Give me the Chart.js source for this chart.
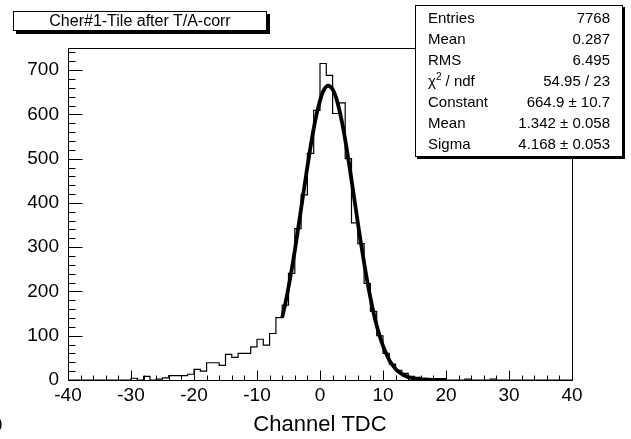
<!DOCTYPE html>
<html><head><meta charset="utf-8">
<script src="https://cdn.jsdelivr.net/npm/chart.js@4.4.0/dist/chart.umd.min.js"></script>
<style>
html,body{margin:0;padding:0;background:#fff;}
#wrap{position:relative;width:631px;height:439px;overflow:hidden;font-family:"Liberation Sans",Arial,sans-serif;color:#000;}
canvas{position:absolute;left:0;top:0;}
.box{position:absolute;background:#fff;border:1px solid #000;box-sizing:border-box;}
#title{left:13px;top:11px;width:254px;height:20px;box-shadow:3px 3px 0 #000;font-size:16px;text-align:center;line-height:18px;white-space:nowrap;}
#stats{left:415px;top:5px;width:208px;height:152px;box-shadow:2px 2px 0 #000;font-size:15px;}
.row{position:absolute;left:12px;right:12px;height:21px;line-height:21px;white-space:nowrap;}
.row .l{position:absolute;left:0;}
.row .r{position:absolute;right:0;}
sup{font-size:10px;vertical-align:6px;line-height:0;}
#corner{position:absolute;left:-3px;top:414px;font-size:17px;}
</style></head>
<body>
<div id="wrap">
<canvas id="c" width="631" height="439"></canvas>
<div id="title" class="box">Cher#1-Tile after T/A-corr</div>
<div id="stats" class="box"></div>
<div id="corner">)</div>
</div>
<script>
// ---- data ----
const binLow = [-40,-39,-38,-37,-36,-35,-34,-33,-32,-31,-30,-29,-28,-27,-26,-25,-24,-23,-22,-21,
 -20,-19,-18,-17,-16,-15,-14,-13,-12,-11,-10,-9,-8,-7,-6,-5,-4,-3,-2,-1,
 0,1,2,3,4,5,6,7,8,9,10,11,12,13,14,15,16,17,18,19,
 20,21,22,23,24,25,26,27,28,29,30,31,32,33,34,35,36,37,38,39];
const binWidth = 1;
const counts = [0,0,0,0,0,0,0,0,0,0,4,0,8,0,2,5,10,10,10,13,
 24,20,39,39,33,58,51,60,60,75,92,79,105,141,169,241,342,418,512,609,
 715,688,602,626,500,355,308,218,155,100,60,36,22,15,8,6,4,3,1,1,
 0,0,0,2,0,0,0,2,0,0,0,0,0,0,0,0,0,0,0,0];
const fitX = [-6,-5.5,-5,-4.5,-4,-3.5,-3,-2.5,-2,-1.5,-1,-0.5,0,0.5,1,1.342,1.5,2,2.5,3,3.5,4,4.5,5,5.5,6,6.5,7,7.5,8,8.5,9,9.5,10,10.5,11,11.5,12,12.5,13,13.5,14,14.5,15,15.5,16,17,18,19,20];
const fitY = [141,173,209,249,292,339,387,435,482,527,568,603,631,652,663,665,664,657,640,614,582,543,499,452,404,356,309,265,223,186,152,123,98,77,60,45,34,25,18.5,13.3,9.4,6.6,4.6,3.1,2.1,1.4,0.6,0.2,0.1,0];
const xTickValues = [-40,-30,-20,-10,0,10,20,30,40];
const xTickLabels = ['-40','-30','-20','-10','0','10','20','30','40'];
const yTickValues = [0,100,200,300,400,500,600,700];
const yTickLabels = ['0','100','200','300','400','500','600','700'];
const statLabels = ['Entries','Mean','RMS','χ<sup>2</sup> / ndf','Constant','Mean','Sigma'];
const statValues = ['7768','0.287','6.495','54.95 / 23','664.9 ± 10.7','1.342 ± 0.058','4.168 ± 0.053'];
const histTitle = 'Cher#1-Tile after T/A-corr';
const xTitle = 'Channel TDC';

// stats box
const sb = document.getElementById('stats');
statLabels.forEach((l,i)=>{
  const d = document.createElement('div');
  d.className='row';
  d.style.top = (1 + i*21) + 'px';
  d.innerHTML = '<span class="l">'+l+'</span><span class="r">'+statValues[i]+'</span>';
  sb.appendChild(d);
});
document.getElementById('title').textContent = histTitle;

const histData = binLow.map((x,i)=>({x:x, y:counts[i]}));
histData.push({x: binLow[binLow.length-1] + binWidth, y: counts[counts.length-1]});
const fitData = fitX.map((x,i)=>({x:x, y:fitY[i]}));

const framePlugin = {
  id:'frame',
  afterDatasetsDraw(chart){
    const {ctx, chartArea:a, scales:{x, y}} = chart;
    ctx.save();
    ctx.strokeStyle='#000';
    ctx.lineWidth=1;
    ctx.beginPath();
    ctx.rect(Math.round(a.left)+0.5, Math.round(a.top)+0.5, Math.round(a.right-a.left), Math.round(a.bottom-a.top));
    ctx.stroke();
    ctx.beginPath();
    const yb = Math.round(a.bottom)+0.5;
    for (let v = x.min; v <= x.max + 1e-9; v += 2) {
      const px = Math.round(x.getPixelForValue(v))+0.5;
      const major = xTickValues.includes(v);
      ctx.moveTo(px, yb);
      ctx.lineTo(px, yb - (major ? 10 : 5));
    }
    const xl = Math.round(a.left)+0.5;
    for (let v = 0; v <= y.max; v += 20) {
      const py = Math.round(y.getPixelForValue(v))+0.5;
      const major = yTickValues.includes(v);
      ctx.moveTo(xl, py);
      ctx.lineTo(xl + (major ? 14 : 7), py);
    }
    ctx.stroke();
    ctx.restore();
  }
};

new Chart(document.getElementById('c'), {
  type:'line',
  data:{datasets:[
    {data:histData, stepped:'before', borderColor:'#000', borderWidth:1.2, pointRadius:0, fill:false, order:2},
    {data:fitData, borderColor:'#000', borderWidth:3.8, pointRadius:0, fill:false, cubicInterpolationMode:'monotone', order:1}
  ]},
  options:{
    responsive:false, animation:false,
    layout:{padding:{left:0, top:48, right:59, bottom:0}},
    plugins:{legend:{display:false}, tooltip:{enabled:false}, title:{display:false}},
    scales:{
      x:{type:'linear', min:-40, max:40,
        grid:{display:false, drawTicks:false}, border:{display:false},
        afterBuildTicks(s){ s.ticks = xTickValues.map(v=>({value:v})); },
        afterFit(s){ s.height = 59; },
        ticks:{autoSkip:false, maxRotation:0, padding:4, color:'#000',
          font:{family:'Liberation Sans', size:19},
          callback:(v)=>{const i=xTickValues.indexOf(v); return i>=0?xTickLabels[i]:'';}},
        title:{display:true, text:xTitle, color:'#000', font:{family:'Liberation Sans', size:22}, padding:{top:0,bottom:1}}
      },
      y:{type:'linear', min:0, max:750,
        grid:{display:false, drawTicks:false}, border:{display:false},
        afterBuildTicks(s){ s.ticks = yTickValues.map(v=>({value:v})); },
        afterFit(s){ s.width = 68; },
        ticks:{autoSkip:false, padding:9, color:'#000',
          font:{family:'Liberation Sans', size:19},
          callback:(v)=>{const i=yTickValues.indexOf(v); return i>=0?yTickLabels[i]:'';}}
      }
    }
  },
  plugins:[framePlugin]
});
</script>
</body></html>
